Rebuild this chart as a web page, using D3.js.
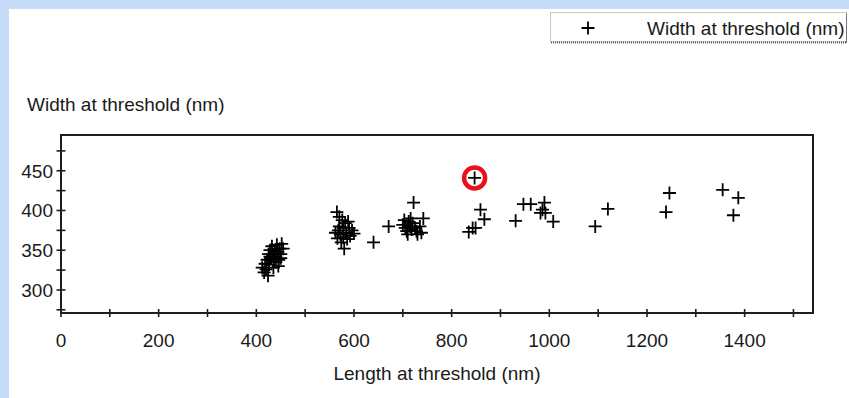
<!DOCTYPE html>
<html><head><meta charset="utf-8">
<script src="https://cdn.jsdelivr.net/npm/d3@7"></script>
<style>
html,body{margin:0;padding:0;background:#c6dcf8;}
svg{display:block;}
text{font-family:"Liberation Sans",Arial,sans-serif;fill:#1a1a1a;}
</style></head>
<body>
<svg id="c" width="849" height="398"></svg>
<script>
// Data
const lengthNm = [
 412,416,418,420,422,425,426,428,430,432,434,436,438,440,442,444,446,448,450,452,445,435,428,440,450,455,424,
 565,570,576,582,568,572,578,584,590,596,600,566,574,580,586,592,570,562,588,578,
 640,671,
 722,742,730,712,700,705,708,715,718,720,725,728,735,738,710,703,716,
 859,867,843,835,849,
 847,
 947,962,990,986,982,992,1008,931,
 1120,1094,1246,1239,1355,1387,1377
];
const widthNm = [
 328,322,333,326,338,345,332,350,340,355,345,336,350,342,357,348,338,352,345,358,330,328,342,335,340,352,318,
 398,392,388,384,375,370,366,372,378,375,371,365,360,352,364,368,380,372,386,378,
 360,380,
 410,390,370,386,382,378,374,380,376,384,378,374,380,372,370,388,390,
 401,389,378,373,378,
 441,
 408,408,410,401,397,397,386,387,
 402,380,422,398,426,416,394
];
const highlightIndex = 71; // the circled outlier (847, 441)
const xTicks = [0,100,200,300,400,500,600,700,800,900,1000,1100,1200,1300,1400,1500];
const xLabels = [0,200,400,600,800,1000,1200,1400];
const yTicks = [275,300,325,350,375,400,425,450,475];
const yLabels = [300,350,400,450];
const seriesName = "Width at threshold (nm)";
const xTitle = "Length at threshold (nm)";
const yTitle = "Width at threshold (nm)";

const svg = d3.select("#c");
// white panel
svg.append("rect").attr("x",9).attr("y",9).attr("width",840).attr("height",389).attr("fill","#fff");

const L=61, R=813, T=135, B=313;
const x = d3.scaleLinear().domain([0,1540]).range([L,R]);
const y = d3.scaleLinear().domain([271,495]).range([B,T]);

const ink="#1e1e1e";
// frame
svg.append("rect").attr("x",L).attr("y",T).attr("width",R-L).attr("height",B-T)
  .attr("fill","none").attr("stroke",ink).attr("stroke-width",2);

// x axis ticks and labels
svg.append("g").selectAll("line").data(xTicks).join("line")
  .attr("x1",d=>x(d)).attr("x2",d=>x(d)).attr("y1",B-4).attr("y2",B+4)
  .attr("stroke",ink).attr("stroke-width",1.6);
svg.append("g").selectAll("text").data(xLabels).join("text")
  .attr("x",d=>x(d)).attr("y",347).attr("text-anchor","middle").attr("font-size",19).text(d=>d);

// y axis ticks and labels
svg.append("g").selectAll("line").data(yTicks).join("line")
  .attr("x1",L-4.5).attr("x2",L+4.5).attr("y1",d=>y(d)).attr("y2",d=>y(d))
  .attr("stroke",ink).attr("stroke-width",1.6);
svg.append("g").selectAll("text").data(yLabels).join("text")
  .attr("x",53).attr("y",d=>y(d)).attr("dy","0.36em").attr("text-anchor","end").attr("font-size",19).text(d=>d);

// titles
svg.append("text").attr("x",27).attr("y",111).attr("font-size",19).text(yTitle);
svg.append("text").attr("x",(L+R)/2).attr("y",380).attr("text-anchor","middle").attr("font-size",19).text(xTitle);

// points
const pts = lengthNm.map((d,i)=>({x:d,y:widthNm[i]}));
const s=6.5;
const g = svg.append("g").attr("stroke","#000").attr("stroke-width",1.8);
g.selectAll("path").data(pts).join("path")
  .attr("d",d=>`M${x(d.x)-s},${y(d.y)}H${x(d.x)+s}M${x(d.x)},${y(d.y)-s}V${y(d.y)+s}`);

// highlight ring
const hp = pts[highlightIndex];
svg.append("circle").attr("cx",x(hp.x)).attr("cy",y(hp.y)).attr("r",10.5)
  .attr("fill","none").attr("stroke","#e8101a").attr("stroke-width",4.5);

// legend
const lg = svg.append("g");
lg.append("rect").attr("x",550.5).attr("y",12.5).attr("width",296).attr("height",29)
  .attr("fill","#fff").attr("stroke","#c8c8c8").attr("stroke-width",1);
lg.append("line").attr("x1",551).attr("x2",847).attr("y1",42.5).attr("y2",42.5)
  .attr("stroke","#555").attr("stroke-width",2).attr("stroke-dasharray","1,1");
lg.append("line").attr("x1",846.5).attr("x2",846.5).attr("y1",13).attr("y2",43)
  .attr("stroke","#777").attr("stroke-width",1);
lg.append("path").attr("d",`M${588-s},28H${588+s}M588,${28-s}V${28+s}`).attr("stroke","#000").attr("stroke-width",1.8);
lg.append("text").attr("x",647).attr("y",35).attr("font-size",19).text(seriesName);
</script>
</body></html>
